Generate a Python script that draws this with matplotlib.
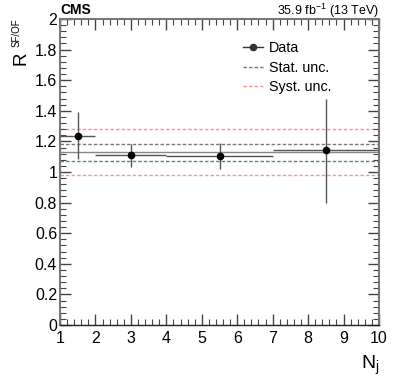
import matplotlib
matplotlib.use("Agg")
from matplotlib import pyplot as plt
from matplotlib.ticker import MultipleLocator
import numpy as np

# bins in N_j
bin_lo = [1, 2, 4, 7]
bin_hi = [2, 4, 7, 10]
ratio = [1.237, 1.109, 1.107, 1.142]
err_up = [0.153, 0.076, 0.080, 0.338]
err_down = [0.152, 0.074, 0.089, 0.342]

mean_ratio = 1.128
stat_unc = 0.053
syst_unc = 0.150

plt.rcParams["font.family"] = ["Liberation Sans", "DejaVu Sans"]

fig = plt.figure(figsize=(3.99, 3.83), dpi=100)
ax = fig.add_axes([0.1504, 0.1514, 0.7995, 0.7990])

lo = np.array(bin_lo, dtype=float)
hi = np.array(bin_hi, dtype=float)
centers = (lo + hi) / 2
xerr = np.vstack([centers - lo, hi - centers])
yerr = np.vstack([err_down, err_up])

dots = (0, (2.5, 1.5))
ax.axhline(mean_ratio, color="#888888", lw=1.0, zorder=1)
ax.axhline(mean_ratio + stat_unc, color="#777777", lw=1.0, ls=dots, zorder=1)
ax.axhline(mean_ratio - stat_unc, color="#777777", lw=1.0, ls=dots, zorder=1)
ax.axhline(mean_ratio + syst_unc, color="#ff9090", lw=1.0, ls=dots, zorder=1)
ax.axhline(mean_ratio - syst_unc, color="#ff9090", lw=1.0, ls=dots, zorder=1)

ax.errorbar(centers, ratio, xerr=xerr, yerr=yerr, fmt="o", color="black",
            ecolor="#555555", elinewidth=1.0, ms=4.5, capsize=0, zorder=3)

# legend handles
h_data, = ax.plot([], [], color="#333333", marker="o", ms=4.5, lw=1.0)
h_stat, = ax.plot([], [], color="#777777", lw=1.0, ls=dots)
h_syst, = ax.plot([], [], color="#ff9090", lw=1.0, ls=dots)
ax.legend([h_data, h_stat, h_syst], ["Data", "Stat. unc.", "Syst. unc."],
          loc="upper left", bbox_to_anchor=(0.574, 0.927),
          frameon=False, fontsize=10.3, handlelength=1.4, handletextpad=0.4,
          labelspacing=0.38, borderaxespad=0, borderpad=0)

ax.set_xlim(1, 10)
ax.set_ylim(0, 2)
ax.xaxis.set_major_locator(MultipleLocator(1))
ax.xaxis.set_minor_locator(MultipleLocator(0.2))
ax.yaxis.set_minor_locator(MultipleLocator(0.04))
ax.set_yticks(np.arange(0, 2.01, 0.2))
ax.set_yticklabels(["0", "0.2", "0.4", "0.6", "0.8", "1", "1.2", "1.4", "1.6", "1.8", "2"])

ax.tick_params(which="both", direction="in", top=True, right=True, labelsize=11.5,
               color="#444444")
ax.tick_params(which="major", length=8, width=1.0)
ax.tick_params(which="minor", length=4, width=0.8)
ax.tick_params(axis="x", pad=4)
ax.tick_params(axis="y", pad=2)

for side in ["left", "right", "top"]:
    ax.spines[side].set_color("#777777")
    ax.spines[side].set_linewidth(1.5)
ax.spines["bottom"].set_color("#222222")
ax.spines["bottom"].set_linewidth(1.0)

ax.set_xlabel(r"N$_{\mathregular{j}}$", fontsize=14, loc="right", labelpad=6)

# y label: big R with a small superscript, ROOT style
fig.text(25.5 / 399, 1 - 65 / 383, "R", rotation=90, fontsize=13.5,
         ha="left", va="baseline", rotation_mode="anchor")
fig.text(19.5 / 399, 1 - 47 / 383, "SF/OF", rotation=90, fontsize=7,
         ha="left", va="baseline", rotation_mode="anchor")

ax.text(0.0, 1.0163, "CMS", transform=ax.transAxes, fontsize=10, fontweight="bold",
        ha="left", va="baseline")
ax.text(1.0, 1.013, r"35.9 fb$^{\mathregular{-1}}$ (13 TeV)", transform=ax.transAxes,
        fontsize=9, ha="right", va="baseline")

fig.savefig("out.png", dpi=100)
